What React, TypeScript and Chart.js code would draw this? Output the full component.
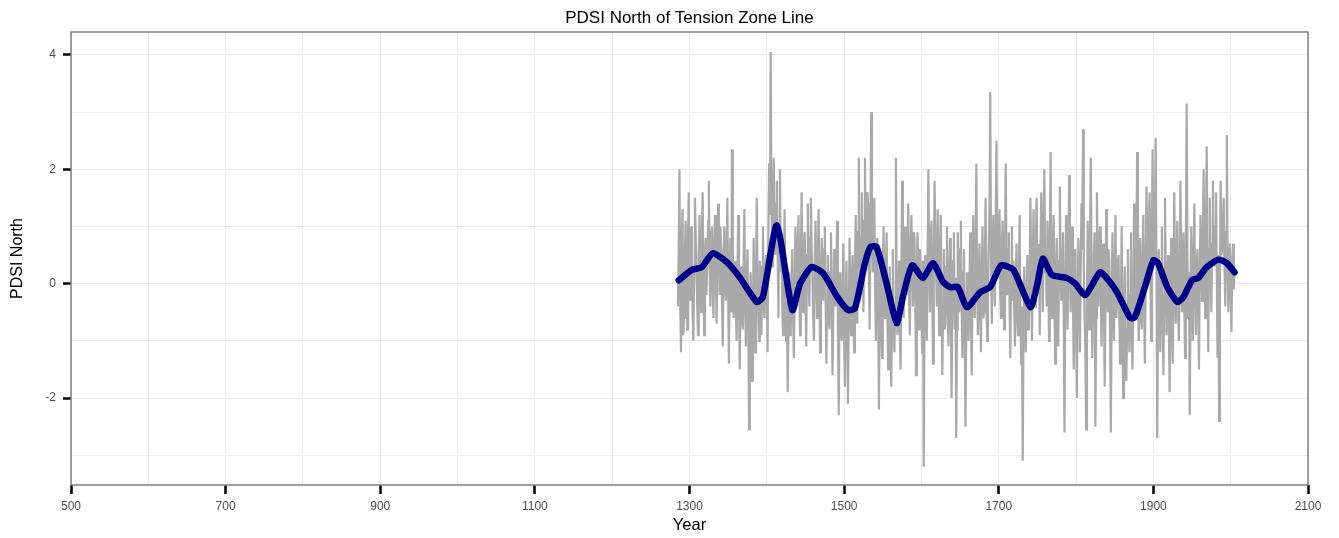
import React, { useEffect, useRef } from "react";
import { Chart, registerables } from "chart.js";

Chart.register(...registerables);

const TITLE = "PDSI North of Tension Zone Line";
const X_TITLE = "Year";
const Y_TITLE = "PDSI North";
const X_MIN = 500;
const X_MAX = 2100;
const Y_MIN = -3.52;
const Y_MAX = 4.4;
const X_LABEL_STEP = 200;
const Y_LABEL_STEP = 2;

// Annual PDSI values, starting 1285 (one row per decade)
const GRAY_START_YEAR = 1285;
const grayValues = [
  -0.4, 0.6, 2.0, -0.3, -1.2, 0.8, 1.3, -0.9, -0.6, 0.5,
  1.1, 0.2, -0.8, 0.7, 1.6, 0.4, -0.3, 1.0, 0.9, -0.5,
  -1.0, 0.3, 1.5, 0.9, 0.2, -0.4, -0.9, 0.5, 1.2, 0.1,
  -0.5, 0.8, 1.6, 0.1, -0.9, 0.4, 0.8, -0.2, 0.3, 1.1,
  1.8, 0.5, -0.4, 0.9, 1.0, -0.1, -0.6, 0.7, 1.2, 0.3,
  -0.7, 0.4, 1.4, 0.8, -0.2, 1.0, 0.6, -0.3, -1.1, 0.2,
  1.0, 0.1, -0.3, 0.6, 1.5, -0.2, -1.4, 0.3, 0.8, -0.5,
  2.35, 0.7, -0.6, 0.2, 0.4, -0.5, -1.0, 0.1, 1.2, -0.3,
  -1.5, -0.2, 0.3, -0.6, -0.8, 0.4, 1.3, -0.4, -1.1, 0.0,
  0.6, -0.5, -2.55, -0.8, 0.2, -0.3, -1.7, -0.6, 0.8, -0.2,
  -1.2, -0.1, 1.5, 0.2, -0.5, -1.0, 0.4, -0.3, -0.9, 0.3,
  1.0, -0.4, -0.6, 0.3, 0.5, -0.2, -1.2, 0.9, 2.1, 1.2,
  4.05, 1.5, 0.3, 1.2, 2.2, 0.8, 0.5, 1.4, 1.8, 0.6,
  -0.6, 0.9, 2.0, 0.2, 0.8, -0.4, -0.9, 0.3, 1.3, -0.2,
  -1.0, -0.3, -1.9, -0.7, 0.2, -0.9, -0.8, 0.1, 0.6, -0.6,
  -1.3, -0.2, 1.0, 0.3, -0.2, 0.6, 1.2, -0.1, -0.9, 0.4,
  1.6, 0.2, -0.5, 0.7, 0.9, -0.3, -1.1, 0.5, 1.4, 0.3,
  -0.4, 0.8, 1.5, 0.6, 0.1, -0.6, -1.0, 0.4, 1.1, 0.2,
  -0.6, 0.5, 1.3, -0.2, -1.2, 0.1, 0.8, 0.3, -0.3, 0.6,
  1.0, -0.2, -1.4, -0.3, 0.5, -0.6, -0.8, 0.2, 0.9, -0.4,
  -1.6, -0.5, 0.6, -0.2, -0.4, 0.3, 1.1, -0.8, -2.3, -0.6,
  0.2, -0.7, -1.0, -0.1, 0.7, -0.9, -1.8, -0.4, 0.4, -0.8,
  -2.1, -0.6, 0.8, -0.3, -0.9, 0.1, 0.5, -0.5, -1.2, 0.3,
  1.2, 0.1, -0.7, 0.9, 2.2, 0.5, 0.1, 0.8, 1.6, 0.4,
  -0.5, 1.1, 2.2, 0.3, 0.6, 1.6, 1.4, 0.2, -0.8, 0.9,
  3.0, 1.2, 0.2, 0.9, 1.5, 0.1, -1.0, 0.4, 0.8, -0.3,
  -2.2, -0.4, 0.5, -0.7, -1.3, 0.2, 1.0, -0.5, -0.6, 0.3,
  0.9, -0.6, -1.5, -0.8, 0.3, -1.1, -1.8, -0.5, 0.6, -0.9,
  -1.2, -0.4, 2.2, -0.2, -0.9, -0.3, 0.4, -0.8, -1.5, 0.1,
  1.8, 0.4, -0.6, 0.7, 1.0, 0.2, -0.2, 0.6, 1.4, -0.1,
  -0.9, 0.5, 1.2, 0.3, -0.4, 0.9, 0.8, -0.3, -1.6, 0.2,
  0.9, 0.1, -0.8, 0.6, 0.3, -0.5, -1.2, 0.4, -3.2, -0.6,
  0.5, -0.3, -1.0, 0.6, 2.0, 0.4, -0.5, 0.8, 1.1, -0.2,
  -1.4, 0.3, 1.8, 0.7, 0.2, -0.4, 1.3, 0.1, -0.9, 0.5,
  1.2, -0.2, -1.6, -0.4, 0.6, -0.8, -0.7, 0.3, 1.0, -0.5,
  -1.1, 0.2, 0.8, -0.6, -2.0, -0.3, 0.4, 0.9, -0.8, 0.1,
  -2.7, -0.8, 0.9, -0.2, -0.5, 0.6, 1.1, -0.4, -1.3, 0.2,
  0.6, -0.9, -2.5, -0.7, 0.2, -0.5, -1.0, -0.2, 0.9, -0.6,
  -1.6, -0.3, 1.2, -0.1, -0.6, 0.5, 2.1, 0.2, -0.9, -0.4,
  0.7, -0.3, -1.2, 0.2, 1.0, -0.6, -0.5, 0.4, 1.5, -0.2,
  -1.0, -0.2, 0.6, 1.3, 3.35, 0.5, -0.7, 0.4, 1.2, 0.3,
  -0.4, 0.9, 2.5, 0.6, 0.1, 0.8, 1.3, -0.2, -0.6, 0.7,
  1.1, 0.3, -0.8, 0.5, 2.1, 0.4, -0.2, 0.6, 0.9, -0.4,
  -1.3, 0.2, 1.0, -0.3, 0.4, -0.5, -1.1, 0.1, 0.7, -0.6,
  -0.9, 0.2, 1.2, -0.6, -1.4, -0.4, -3.1, -0.9, 0.3, -0.7,
  -1.2, -0.3, 0.5, -0.8, -0.6, 0.3, 1.5, 0.2, -1.0, 0.4,
  1.3, 0.3, -0.4, 0.6, 1.5, 0.1, 0.2, 0.7, -0.9, 0.5,
  1.6, 0.7, -0.5, 0.9, 2.0, 0.2, 0.3, -0.4, 1.1, 0.5,
  -1.0, 0.4, 2.3, 0.1, -0.6, 0.5, 1.2, -0.3, -1.4, 0.2,
  0.8, -0.2, -1.1, 0.4, 1.7, 0.3, -0.3, 0.6, 0.9, -0.5,
  -2.6, -0.4, 1.2, 0.2, -0.8, 0.5, 1.9, 0.3, -0.5, 0.6,
  1.0, -0.3, -1.5, -0.2, 0.6, -0.7, -2.0, -0.4, 0.8, 0.1,
  -1.2, 0.2, 1.4, 0.6, 2.7, 0.3, -0.6, -1.1, -2.55, -0.5,
  1.1, 0.2, -0.8, 0.7, 2.2, 0.4, -1.3, -0.2, 0.5, 0.9,
  -2.5, -0.6, 1.6, 0.3, -0.4, 0.8, 1.0, -0.2, -1.1, 0.4,
  0.7, -0.4, -1.8, -0.3, 1.3, 0.2, -0.5, 0.6, 0.4, -0.8,
  -2.6, -0.5, 0.9, -0.2, -1.0, 0.3, 1.2, -0.6, -0.3, 0.4,
  0.5, -0.6, -1.4, -0.3, 1.0, -0.8, -2.0, -0.5, 0.3, -0.9,
  -1.7, -0.8, 0.6, -0.5, -1.2, -0.2, 0.9, -0.9, -1.5, -0.3,
  1.4, -0.2, -0.6, 0.5, 2.3, 0.1, -1.0, -0.3, 0.8, -0.6,
  -0.8, 0.3, 1.2, -0.4, -1.4, 0.2, 1.7, 0.8, 0.2, 1.0,
  1.6, 0.4, -1.0, 0.9, 2.35, 0.6, 0.4, 1.1, 2.55, 0.3,
  -2.7, -0.4, 0.6, -0.3, -1.2, 0.2, 1.0, -0.5, -1.6, -0.2,
  1.5, 0.1, -0.9, -0.2, 0.5, -0.7, -1.9, -0.4, 0.8, -0.6,
  -1.4, -0.3, 1.6, 0.2, -0.7, 0.4, 1.1, -0.5, -1.0, 0.1,
  1.8, 0.3, -0.5, 0.6, 0.9, -0.4, -1.3, 0.5, 3.15, 0.8,
  -0.6, 0.2, -2.3, -0.5, 1.0, 0.1, -1.0, 0.4, 1.4, -0.2,
  -0.9, 0.3, 0.6, -0.4, -1.5, 0.2, 1.2, 0.5, -0.3, 0.7,
  2.0, 0.4, -0.6, 0.8, 2.4, 0.3, -1.2, 0.6, 1.5, 0.2,
  -0.5, 0.7, 1.8, 0.4, 0.3, 1.0, 1.6, 0.2, -1.3, 0.5,
  -2.4, -0.3, 1.8, 0.5, 0.6, 1.1, 1.5, 0.3, -0.4, 0.9,
  2.6, 0.4, -0.5, 0.6, 0.7, -0.2, -0.85, 0.3, 0.7, -0.1,
  0.2,
];

// Smoothed series
const smoothYears = [
  1286, 1303, 1316, 1330, 1348, 1365, 1387, 1395, 1413, 1433,
  1443, 1458, 1473, 1491, 1505, 1514, 1527, 1534, 1542, 1555,
  1568, 1576, 1588, 1602, 1615, 1628, 1637, 1647, 1659, 1676,
  1689, 1703, 1719, 1741, 1750, 1757, 1769, 1788, 1799, 1812,
  1831, 1842, 1853, 1870, 1876, 1889, 1900, 1906, 1918, 1931,
  1939, 1950, 1958, 1969, 1984, 1995, 2005,
];
const smoothValues = [
  0.06, 0.24, 0.29, 0.53, 0.38, 0.11, -0.32, -0.23, 1.02, -0.46,
  0.0, 0.29, 0.18, -0.23, -0.46, -0.43, 0.36, 0.64, 0.64, 0.0,
  -0.69, -0.23, 0.32, 0.1, 0.36, 0.03, -0.06, -0.06, -0.41, -0.15,
  -0.06, 0.32, 0.24, -0.41, 0.0, 0.44, 0.15, 0.1, 0.0, -0.2,
  0.2, 0.06, -0.15, -0.6, -0.59, -0.06, 0.41, 0.36, -0.06, -0.32,
  -0.23, 0.06, 0.1, 0.29, 0.42, 0.36, 0.2,
];

const FONT = '"Liberation Sans", Arial, Helvetica, sans-serif';

const framePlugin = {
  id: "frame",
  afterDraw(chart: any) {
    const { ctx, chartArea: a } = chart;
    ctx.save();
    ctx.strokeStyle = "#808080";
    ctx.lineWidth = 1.5;
    ctx.strokeRect(a.left, a.top, a.right - a.left, a.bottom - a.top);
    ctx.fillStyle = "#000";
    ctx.font = `17px ${FONT}`;
    ctx.textAlign = "center";
    ctx.textBaseline = "middle";
    ctx.fillText(TITLE, (a.left + a.right) / 2, 18);
    ctx.restore();
  },
};

export default function App() {
  const ref = useRef<HTMLCanvasElement | null>(null);

  useEffect(() => {
    document.body.style.margin = "0";
    const grayData = grayValues.map((v, i) => ({ x: GRAY_START_YEAR + i, y: v }));
    const smoothData = smoothYears.map((yr, i) => ({ x: yr, y: smoothValues[i] }));
    const isXLabel = (v: number) => Math.round(v - X_MIN) % X_LABEL_STEP === 0;
    const isYLabel = (v: number) => Math.round(v) % Y_LABEL_STEP === 0;
    const chart = new Chart(ref.current as HTMLCanvasElement, {
      type: "line",
      data: {
        datasets: [
          {
            data: smoothData,
            borderColor: "#000088",
            borderWidth: 6.5,
            pointRadius: 0,
            tension: 0.2,
            borderCapStyle: "round",
            borderJoinStyle: "round",
          },
          {
            data: grayData,
            borderColor: "#a9a9a9",
            borderWidth: 2.2,
            pointRadius: 0,
            tension: 0,
          },
        ],
      },
      options: {
        responsive: false,
        animation: false,
        devicePixelRatio: 1,
        layout: { padding: { left: 0, top: 32, right: 31, bottom: 0 } },
        plugins: { legend: { display: false }, title: { display: false }, tooltip: { enabled: false } },
        scales: {
          x: {
            type: "linear",
            min: X_MIN,
            max: X_MAX,
            afterFit: (s: any) => {
              s.height = 53;
            },
            border: { display: false },
            grid: {
              color: "#ebebeb",
              lineWidth: 1,
              tickLength: 9,
              tickWidth: 2.5,
              tickColor: (c: any) => (c.tick && isXLabel(c.tick.value) ? "#000" : "rgba(0,0,0,0)"),
            },
            ticks: {
              stepSize: 100,
              autoSkip: false,
              maxRotation: 0,
              includeBounds: false,
              padding: 5,
              color: "#4d4d4d",
              font: { size: 12, family: FONT },
              callback: (v: any) => (isXLabel(v) ? String(Math.round(v)) : ""),
            },
            title: {
              display: true,
              text: X_TITLE,
              color: "#000",
              font: { size: 16.5, family: FONT },
              padding: { top: 0, bottom: 3 },
            },
          },
          y: {
            type: "linear",
            min: Y_MIN,
            max: Y_MAX,
            afterFit: (s: any) => {
              s.width = 71;
            },
            border: { display: false },
            grid: {
              color: "#ebebeb",
              lineWidth: 1,
              tickLength: 8,
              tickWidth: 2.5,
              tickColor: (c: any) => (c.tick && isYLabel(c.tick.value) ? "#000" : "rgba(0,0,0,0)"),
            },
            ticks: {
              stepSize: 1,
              autoSkip: false,
              includeBounds: false,
              padding: 7,
              color: "#4d4d4d",
              font: { size: 12, family: FONT },
              callback: (v: any) => (isYLabel(v) ? String(Math.round(v)) : ""),
            },
            title: {
              display: true,
              text: Y_TITLE,
              color: "#000",
              font: { size: 16, family: FONT },
              padding: { top: 8, bottom: 0 },
            },
          },
        },
      } as any,
      plugins: [framePlugin],
    });
    return () => chart.destroy();
  }, []);

  return (
    <div style={{ width: 1339, height: 538 }}>
      <canvas ref={ref} width={1339} height={538} style={{ display: "block" }} />
    </div>
  );
}
